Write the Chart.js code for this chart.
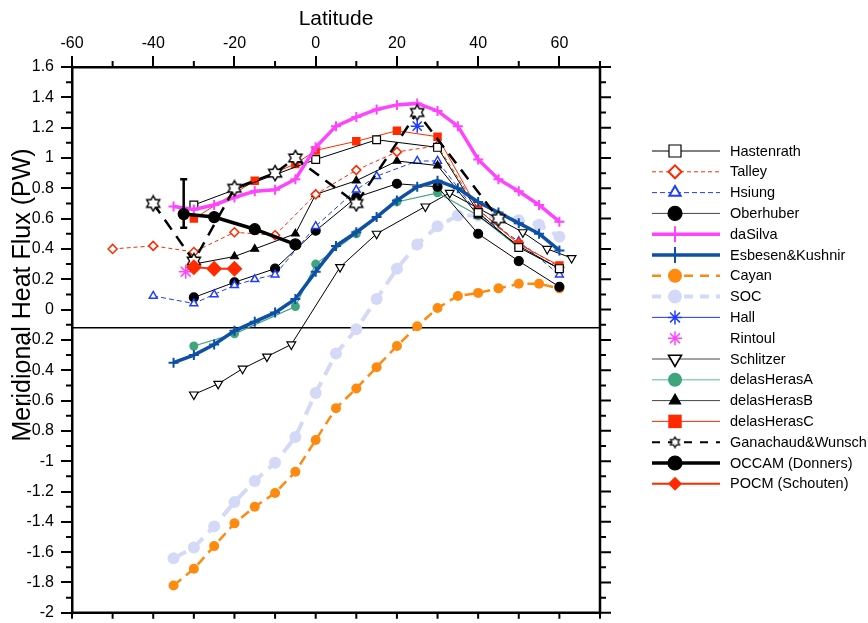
<!DOCTYPE html>
<html>
<head>
<meta charset="utf-8">
<script src="https://cdn.jsdelivr.net/npm/chart.js@4.4.1/dist/chart.umd.min.js"></script>
<style>
  html, body { margin: 0; padding: 0; background: #fff; }
  #wrap { width: 868px; height: 623px; position: relative; }
</style>
</head>
<body>
<div id="wrap"><canvas id="grafico"></canvas></div>
<script>
// ======= DADOS =======
const hastenrathLat = [-30, 0, 15, 30, 40, 50, 60];
const hastenrath = [0.69, 0.99, 1.12, 1.07, 0.64, 0.41, 0.27];

const talleyLat = [-50, -40, -30, -20, -10, 0, 10, 20, 30, 40, 50, 60];
const talley = [0.40, 0.42, 0.38, 0.51, 0.49, 0.76, 0.92, 1.04, 1.08, 0.66, 0.44, 0.28];

const hsiungLat = [-40, -30, -25, -20, -15, -10, 0, 10, 15, 25, 30, 40, 50, 60];
const hsiung = [0.09, 0.04, 0.10, 0.16, 0.20, 0.23, 0.55, 0.79, 0.88, 0.98, 0.98, 0.63, 0.45, 0.23];

const oberhuberLat = [-30, -20, -10, 0, 10, 20, 30, 40, 50, 60];
const oberhuber = [0.08, 0.18, 0.27, 0.52, 0.74, 0.83, 0.81, 0.50, 0.32, 0.15];

const lat5 = [-35, -30, -25, -20, -15, -10, -5, 0, 5, 10, 15, 20, 25, 30, 35, 40, 45, 50, 55, 60];
const dasilva = [0.68, 0.66, 0.69, 0.74, 0.78, 0.79, 0.86, 1.07, 1.21, 1.27, 1.32, 1.35, 1.36, 1.31, 1.21, 0.99, 0.86, 0.78, 0.69, 0.58];
const esbesen = [-0.35, -0.30, -0.23, -0.14, -0.08, -0.02, 0.07, 0.25, 0.42, 0.51, 0.61, 0.72, 0.81, 0.85, 0.80, 0.71, 0.64, 0.57, 0.50, 0.39];
const cayan = [-1.82, -1.71, -1.56, -1.41, -1.30, -1.21, -1.07, -0.86, -0.65, -0.52, -0.38, -0.24, -0.11, 0.01, 0.09, 0.11, 0.14, 0.17, 0.17, 0.14];
const soc = [-1.64, -1.57, -1.43, -1.27, -1.13, -1.01, -0.84, -0.55, -0.29, -0.13, 0.07, 0.27, 0.43, 0.55, 0.62, 0.62, 0.61, 0.59, 0.56, 0.48];

const hallLat = [25];
const hall = [1.21];
const rintoulLat = [-32];
const rintoul = [0.25];

const schlitzerLat = [-30, -24, -18, -12, -6, 6, 15, 27, 33, 51, 57, 63];
const schlitzer = [-0.56, -0.49, -0.39, -0.31, -0.23, 0.28, 0.50, 0.68, 0.77, 0.51, 0.40, 0.34];

const herasALat = [-30, -20, -5, 0, 10, 20, 30, 40, 50];
const herasA = [-0.24, -0.16, 0.02, 0.30, 0.50, 0.71, 0.77, 0.62, 0.41];

const herasBLat = [-30, -20, -15, -5, 0, 10, 20, 30, 40, 50, 60];
const herasB = [0.30, 0.35, 0.40, 0.50, 0.76, 0.85, 0.98, 0.95, 0.62, 0.42, 0.27];

const herasCLat = [-30, -15, -5, 0, 10, 20, 30, 40, 50, 60];
const herasC = [0.60, 0.85, 0.96, 1.05, 1.11, 1.18, 1.14, 0.66, 0.43, 0.29];

const ganachaudLat = [-40, -30, -20, -10, -5, 10, 25, 45];
const ganachaud = [0.70, 0.32, 0.80, 0.90, 1.00, 0.70, 1.30, 0.60];

const occamLat = [-32.5, -25, -15, -5];
const occam = [0.63, 0.61, 0.53, 0.43];
const occamErro = [0.54, 0.86];

const pocmLat = [-30, -25, -20];
const pocm = [0.28, 0.27, 0.27];

const linhaRef = -0.12;
const xLimites = [-60, 70];
const yLimites = [-2, 1.6];

const FONTE = "'Liberation Sans', Arial, sans-serif";

// ======= FUNÇÕES =======
function pontos(lats, vals) {
  return lats.map((x, i) => ({ x, y: vals[i] }));
}

// estrela de seis pontas (contorno) para Ganachaud&Wunsch
function criarEstrela(tam, lw) {
  const c = document.createElement("canvas");
  c.width = tam;
  c.height = tam;
  const g = c.getContext("2d");
  const cx = tam / 2, cy = tam / 2, r = tam / 2 - lw;
  g.lineWidth = lw;
  g.strokeStyle = "#000";
  g.fillStyle = "#fff";
  g.beginPath();
  for (let k = 0; k < 12; k++) {
    const a = -Math.PI / 2 + (k * Math.PI) / 6;
    const rr = k % 2 === 0 ? r : r * 0.58;
    const px = cx + rr * Math.cos(a), py = cy + rr * Math.sin(a);
    if (k === 0) g.moveTo(px, py);
    else g.lineTo(px, py);
  }
  g.closePath();
  g.fill();
  g.stroke();
  return c;
}
const estrela = criarEstrela(18, 1.4);
const estrelaPeq = criarEstrela(13, 1.2);

function serie(label, lats, vals, o) {
  return Object.assign({
    label,
    data: pontos(lats, vals),
    showLine: true,
    borderWidth: 1,
    borderColor: "#000",
    pointBorderColor: "#000",
    pointBackgroundColor: "#000",
    pointBorderWidth: 1.2,
    pointRadius: 4.5,
    pointHoverRadius: 4.5,
    pointStyle: "circle",
    tension: 0,
  }, o);
}

const RED = "#ff2a00";
const BLUE = "#1f3cff";

const datasets = [
  serie("Hastenrath", hastenrathLat, hastenrath, {
    pointStyle: "rect", pointRadius: 5.5, pointBackgroundColor: "#fff",
    order: 7, legenda: { r: 8.5 },
  }),
  serie("Talley", talleyLat, talley, {
    borderColor: RED, borderDash: [4, 3], pointStyle: "rectRot", pointRadius: 4.5,
    pointBackgroundColor: "#fff", pointBorderColor: RED, pointBorderWidth: 1.5,
    order: 9, legenda: { r: 6.5, bw: 2 },
  }),
  serie("Hsiung", hsiungLat, hsiung, {
    borderColor: BLUE, borderDash: [5, 3], pointStyle: "triangle", pointRadius: 4.5,
    pointBackgroundColor: "#fff", pointBorderColor: BLUE, pointBorderWidth: 1.5,
    order: 11, legenda: { r: 6.5, bw: 2 },
  }),
  serie("Oberhuber", oberhuberLat, oberhuber, {
    pointRadius: 4.5, order: 12, legenda: { r: 7, cor: "#444" },
  }),
  serie("daSilva", lat5, dasilva, {
    borderColor: "#ff44ff", borderWidth: 3.5, pointStyle: "cross", pointRadius: 5,
    pointBorderColor: "#ff44ff", pointBorderWidth: 2,
    order: 5, legenda: { r: 8 },
  }),
  serie("Esbesen&Kushnir", lat5, esbesen, {
    borderColor: "#0d50a6", borderWidth: 3.5, pointStyle: "cross", pointRadius: 5,
    pointBorderColor: "#0d50a6", pointBorderWidth: 2,
    order: 6, legenda: { r: 8 },
  }),
  serie("Cayan", lat5, cayan, {
    borderColor: "#ff8a10", borderWidth: 2.5, borderDash: [10, 6], pointRadius: 5,
    pointBorderColor: "#ff8a10", pointBackgroundColor: "#ff8a10", pointBorderWidth: 0,
    order: 15, legenda: { r: 7, dash: [9, 7] },
  }),
  serie("SOC", lat5, soc, {
    borderColor: "#d5d9f8", borderWidth: 4, borderDash: [14, 8], pointRadius: 6,
    pointBorderColor: "#d5d9f8", pointBackgroundColor: "#d5d9f8", pointBorderWidth: 0,
    order: 16, legenda: { r: 7, dash: [9, 7] },
  }),
  serie("Hall", hallLat, hall, {
    borderColor: BLUE, pointStyle: "star", pointRadius: 6.5, pointBorderColor: BLUE,
    pointBorderWidth: 1.5, order: 3, legenda: { r: 7 },
  }),
  serie("Rintoul", rintoulLat, rintoul, {
    borderColor: "#ff44ff", pointStyle: "star", pointRadius: 7, pointBorderColor: "#ff44ff",
    pointBorderWidth: 1.5, order: 3, legenda: { r: 7, linha: false },
  }),
  serie("Schlitzer", schlitzerLat, schlitzer, {
    pointStyle: "triangle", pointRotation: 180, pointRadius: 5,
    pointBackgroundColor: "#fff", order: 14, legenda: { r: 7.5, bw: 1.6, cor: "#444" },
  }),
  serie("delasHerasA", herasALat, herasA, {
    borderColor: "#3fa57c", borderWidth: 1.2, pointRadius: 4.5,
    pointBackgroundColor: "#3fa57c", pointBorderColor: "#3fa57c", pointBorderWidth: 0,
    order: 13, legenda: { r: 7, cor: "#8fd2b6", lw: 1.5 },
  }),
  serie("delasHerasB", herasBLat, herasB, {
    pointStyle: "triangle", pointRadius: 4.5, order: 10, legenda: { r: 6.5, cor: "#444" },
  }),
  serie("delasHerasC", herasCLat, herasC, {
    borderColor: RED, pointStyle: "rect", pointRadius: 6,
    pointBackgroundColor: RED, pointBorderColor: RED, pointBorderWidth: 0,
    order: 8, legenda: { r: 9.5 },
  }),
  serie("Ganachaud&Wunsch", ganachaudLat, ganachaud, {
    borderWidth: 2.5, borderDash: [12, 8], pointStyle: estrela, pointRadius: 9,
    order: 4, legenda: { r: 6, estilo: estrelaPeq, dash: [8, 8], lw: 2 },
  }),
  serie("OCCAM (Donners)", occamLat, occam, {
    borderWidth: 3.5, pointRadius: 5.5, order: 2, legenda: { r: 7 },
  }),
  serie("POCM (Schouten)", pocmLat, pocm, {
    borderColor: RED, borderWidth: 2, pointStyle: "rectRot", pointRadius: 8,
    pointBackgroundColor: RED, pointBorderColor: RED, pointBorderWidth: 0,
    order: 1, legenda: { r: 7 },
  }),
  // barra de erro do OCCAM
  serie("erro", [occamLat[0], occamLat[0]], occamErro, {
    borderWidth: 2.5, pointStyle: "line", pointRadius: 3.5, pointBorderWidth: 2.5, order: 2,
  }),
  // linha horizontal de referência
  serie("ref", xLimites, [linhaRef, linhaRef], {
    borderWidth: 1.5, pointRadius: 0, order: 30,
  }),
];

// ======= PLUGINS =======
const molduraPlugin = {
  id: "moldura",
  afterDraw(chart) {
    const { ctx, chartArea: a, scales: { x, y } } = chart;
    ctx.save();
    ctx.strokeStyle = "#000";
    ctx.lineWidth = 2.5;
    ctx.beginPath();
    ctx.moveTo(a.right, a.top - 1);
    ctx.lineTo(a.right, a.bottom + 1.2);
    ctx.moveTo(a.left - 1.2, a.bottom);
    ctx.lineTo(a.right + 1.2, a.bottom);
    ctx.stroke();

    ctx.lineWidth = 2;
    ctx.beginPath();
    for (let i = 0; i <= 36; i++) {
      const py = y.getPixelForValue(yLimites[0] + i * 0.1);
      const maior = i % 2 === 0;
      if (!maior) {
        ctx.moveTo(a.left, py);
        ctx.lineTo(a.left - 6, py);
      }
      ctx.moveTo(a.right, py);
      ctx.lineTo(a.right + (maior ? 11 : 6), py);
    }
    for (let v = xLimites[0]; v <= xLimites[1]; v += 10) {
      const px = x.getPixelForValue(v);
      if ((v / 10) % 2 !== 0) {
        ctx.moveTo(px, a.top);
        ctx.lineTo(px, a.top - 6);
      }
      ctx.moveTo(px, a.bottom);
      ctx.lineTo(px, a.bottom + 6);
    }
    ctx.stroke();

    // título do eixo y
    ctx.fillStyle = "#000";
    ctx.font = `25px ${FONTE}`;
    ctx.textAlign = "center";
    ctx.textBaseline = "alphabetic";
    ctx.translate(30, 295);
    ctx.rotate(-Math.PI / 2);
    ctx.fillText("Meridional Heat Flux (PW)", 0, 0);
    ctx.restore();
  },
};

const legendaPlugin = {
  id: "legenda",
  afterDraw(chart) {
    const ctx = chart.ctx;
    const itens = chart.data.datasets.filter((d) => d.legenda);
    ctx.save();
    itens.forEach((d, i) => {
      const y = 151 + i * 20.8;
      const lg = d.legenda;
      if (lg.linha !== false) {
        ctx.strokeStyle = lg.cor || d.borderColor;
        ctx.lineWidth = lg.lw || d.borderWidth;
        ctx.setLineDash(lg.dash || d.borderDash || []);
        ctx.beginPath();
        ctx.moveTo(652, y);
        ctx.lineTo(720, y);
        ctx.stroke();
      }
      ctx.setLineDash([]);
      ctx.fillStyle = d.pointBackgroundColor;
      ctx.strokeStyle = d.pointBorderColor;
      const bw = lg.bw || d.pointBorderWidth;
      ctx.lineWidth = bw;
      Chart.helpers.drawPoint(ctx, {
        pointStyle: lg.estilo || d.pointStyle,
        rotation: d.pointRotation || 0,
        radius: lg.r,
        borderWidth: bw,
      }, 675, y);
      ctx.fillStyle = "#000";
      ctx.font = `14.5px ${FONTE}`;
      ctx.textAlign = "left";
      ctx.textBaseline = "middle";
      ctx.fillText(d.label, 730, y + 0.5);
    });
    ctx.restore();
  },
};

// ======= GRÁFICO =======
new Chart(document.getElementById("grafico"), {
  type: "line",
  data: { datasets },
  options: {
    responsive: true,
    maintainAspectRatio: false,
    animation: false,
    events: [],
    layout: { padding: { left: 0, top: 0, right: 268, bottom: 9 } },
    plugins: { legend: { display: false }, tooltip: { enabled: false } },
    scales: {
      x: {
        type: "linear",
        position: "top",
        min: xLimites[0],
        max: xLimites[1],
        afterFit: (s) => { s.height = 67; },
        border: { display: true, color: "#000", width: 2.5 },
        grid: { display: true, drawOnChartArea: false, drawTicks: true, tickLength: 11, color: "#000", lineWidth: 2 },
        ticks: {
          stepSize: 20, includeBounds: false, padding: 3, color: "#000",
          maxRotation: 0, autoSkip: false,
          font: { family: FONTE, size: 16 },
          callback: (v) => (v > 60 ? "" : String(v)),
        },
        title: {
          display: true, text: "Latitude", color: "#000",
          font: { family: FONTE, size: 21 }, padding: { top: 7, bottom: 0 },
        },
      },
      y: {
        type: "linear",
        min: yLimites[0],
        max: yLimites[1],
        afterFit: (s) => {
          s.width = 72;
          s.paddingTop = 0;
          s.paddingBottom = 0;
        },
        border: { display: true, color: "#000", width: 2.5 },
        grid: { display: true, drawOnChartArea: false, drawTicks: true, tickLength: 11, color: "#000", lineWidth: 2 },
        ticks: {
          stepSize: 0.2, padding: 7, color: "#000",
          font: { family: FONTE, size: 16 },
          callback: (v) => String(Math.round(v * 10) / 10),
        },
      },
    },
  },
  plugins: [molduraPlugin, legendaPlugin],
});
</script>
</body>
</html>
